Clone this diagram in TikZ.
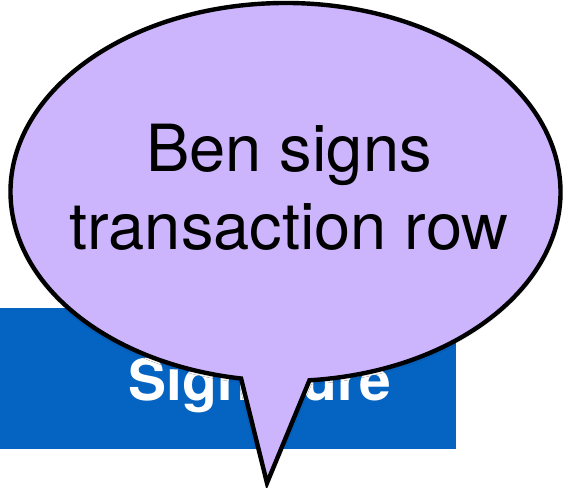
\documentclass[tikz,border=0pt]{standalone}
\usepackage{fontspec}
\setmainfont{TeX Gyre Heros}
\usepackage{xcolor}
\usepackage{tikz}
\usetikzlibrary{shadows.blur}

\definecolor{sigblue}{RGB}{5,99,193}
\definecolor{bubblefill}{RGB}{205,181,253}

\begin{document}
\begin{tikzpicture}[x=1pt, y=1pt,
  bubble/.style={fill=bubblefill, draw=black, line width=4.4pt, line join=miter,
    blur shadow={shadow xshift=0pt, shadow yshift=-1pt,
      shadow blur radius=3pt, shadow opacity=25}},
  saytext/.style={font=\fontsize{65}{78}\selectfont, align=center, inner sep=0pt},
  sigtext/.style={font=\fontsize{57}{66}\selectfont\bfseries, text=white, inner sep=0pt}]
\useasboundingbox (0,0) rectangle (569,487);
% ================= blue header cell =================
\fill[sigblue] (0,38) rectangle (456,179);
\node[sigtext, anchor=base] (sig) at (260,87) {Signature};
% ================= speech bubble =================
\coordinate (bc) at (285.5,295);
\coordinate (tip) at (267,4);
\draw[bubble] ([shift={(-85:275pt and 189pt)}]bc)
  arc[start angle=-85, end angle=260.7, x radius=275pt, y radius=189pt]
  -- (tip) -- cycle;
\node[saytext] (say) at (289,299.5) {Ben signs\\transaction row};
\end{tikzpicture}
\end{document}
